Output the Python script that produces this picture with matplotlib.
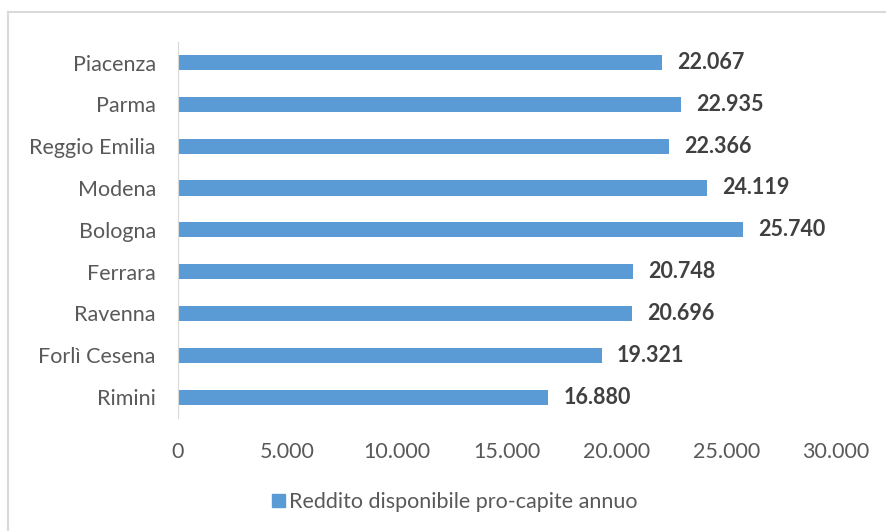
import matplotlib.pyplot as plt
from matplotlib.lines import Line2D
from matplotlib.patches import Patch

# Dati
province = ['Piacenza', 'Parma', 'Reggio Emilia', 'Modena', 'Bologna',
            'Ferrara', 'Ravenna', 'Forlì Cesena', 'Rimini']
reddito = [22067, 22935, 22366, 24119, 25740, 20748, 20696, 19321, 16880]
xticks = [0, 5000, 10000, 15000, 20000, 25000, 30000]
serie = 'Reddito disponibile pro-capite annuo'

blu = '#5B9BD5'
grigio = '#595959'
fs = 15.5

plt.rcParams['font.family'] = ['Lato', 'DejaVu Sans']

W, H = 886, 531
fig = plt.figure(figsize=(W / 100, H / 100), dpi=100)
ax = fig.add_axes([178 / W, 1 - 418 / H, (836 - 178) / W, (418 - 41.6) / H])

pos = list(range(len(province)))
ax.barh(pos, reddito, height=0.36, color=blu)
ax.set_ylim(len(province) - 0.5, -0.5)
ax.set_xlim(0, 30000)

for y, v in zip(pos, reddito):
    lab = f'{v:,}'.replace(',', '.')
    ax.annotate(lab, (v, y), xytext=(11, 0), textcoords='offset points',
                va='center', ha='left', fontsize=fs, fontweight='bold', color='#404040')

ax.set_yticks(pos)
ax.set_yticklabels(province, fontsize=fs, color=grigio)
ax.set_xticks(xticks)
ax.set_xticklabels([f'{t:,}'.replace(',', '.') for t in xticks], fontsize=fs, color=grigio)
ax.tick_params(axis='both', length=0)
ax.tick_params(axis='y', pad=16)
ax.tick_params(axis='x', pad=17)

for s in ['top', 'right', 'bottom']:
    ax.spines[s].set_visible(False)
ax.spines['left'].set_color('#D9D9D9')

# Legenda
fig.legend(handles=[Patch(color=blu, label=serie)], loc='center',
           bbox_to_anchor=(455 / W, 1 - 502 / H), frameon=False, fontsize=fs,
           handlelength=0.6, handleheight=0.6, handletextpad=0.2,
           labelcolor=grigio)

# Bordo del grafico
fig.add_artist(Line2D([8 / W, 8 / W], [0, 1 - 12 / H], color='#D9D9D9', lw=1.5))
fig.add_artist(Line2D([8 / W, 1], [1 - 12 / H, 1 - 12 / H], color='#D9D9D9', lw=1.5))

fig.savefig('out.png', dpi=100)
